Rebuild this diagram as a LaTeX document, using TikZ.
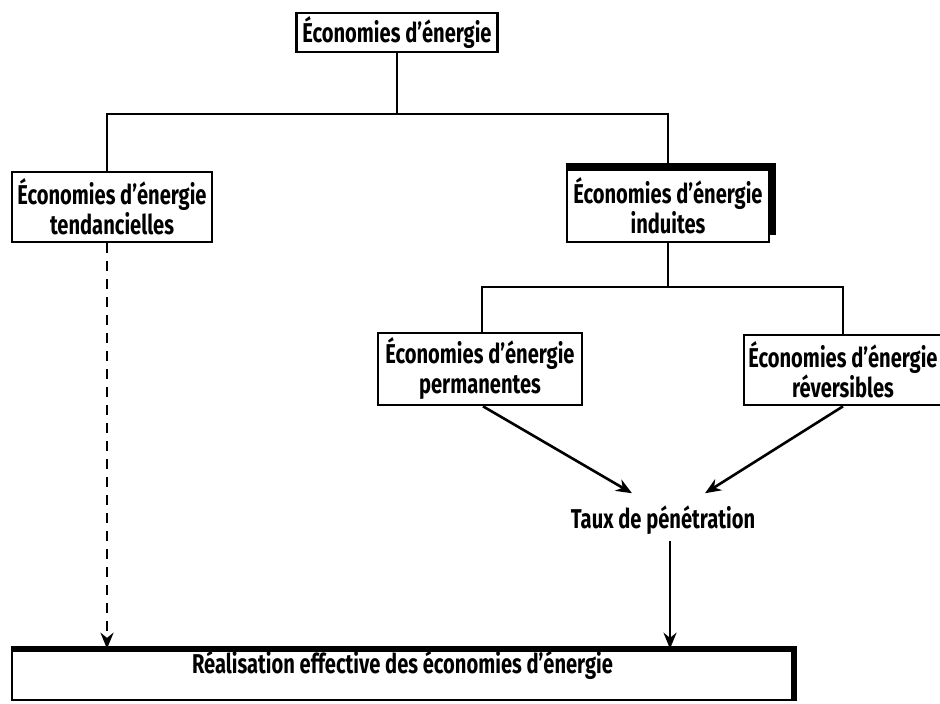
\documentclass[tikz,border=0pt]{standalone}
\usepackage{fontspec}
\setmainfont{Fira Sans}[FakeStretch=0.74]
\usetikzlibrary{arrows.meta}

\begin{document}
\begin{tikzpicture}[x=0.5pt,y=-0.5pt]

\tikzstyle{ecobox} = [rectangle, draw=black, line width=1.3pt, align=center, inner sep=0pt, font=\bfseries\fontsize{13.6}{15}\selectfont]
\tikzstyle{plain} = [inner sep=3pt, font=\bfseries\fontsize{13.6}{15}\selectfont]
\tikzstyle{line} = [line width=1.3pt]
\tikzstyle{shade} = [line width=3pt]
\tikzstyle{arrow} = [line width=1.3pt,-{Stealth[length=8pt,width=6.5pt]}]

\useasboundingbox (0,0) rectangle (940,703);

% Define nodes
\node (eco) [ecobox, minimum width=100.5pt, minimum height=19.5pt] at (397,32.5) {Économies d'énergie};
\node (tend) [ecobox, minimum width=100pt, minimum height=35pt] at (112,207) {Économies d'énergie\\tendancielles};
\node (ind) [ecobox, minimum width=101pt, minimum height=36pt] at (668,206) {Économies d'énergie\\induites};
\node (perm) [ecobox, minimum width=102pt, minimum height=36pt] at (480,369) {Économies d'énergie\\permanentes};
\node (rev) [ecobox, minimum width=99pt, minimum height=35pt] at (843,370) {Économies d'énergie\\réversibles};
\node (taux) [plain] at (663,520) {Taux de pénétration};
\node (real) [ecobox, minimum width=390.5pt, text height=11.5pt, text depth=13.5pt] at (402.5,675) {Réalisation effective des économies d’énergie};

% Shadows
\draw [shade] ([yshift=1.5pt]ind.north west) -- ([xshift=1.5pt,yshift=1.5pt]ind.north east) -- ([xshift=1.5pt,yshift=4pt]ind.south east);
\draw [shade] (real.north west) -- (real.north east) -- (real.south east);

% Draw tree
\coordinate (fork1) at (397,114);
\coordinate (fork2) at (668,287);
\draw [line] (eco.south) -- (fork1);
\draw [line] ([xshift=-2.5pt]tend.north) |- (fork1) -| (ind.north);
\draw [line] (ind.south) -- (fork2);
\draw [line] ([xshift=1pt]perm.north) |- (fork2) -| (rev.north);

% Draw arrows
\draw [arrow] ([xshift=1.5pt]perm.south) -- ([xshift=-15.5pt,yshift=3pt]taux.north);
\draw [arrow] (rev.south) -- ([xshift=21pt,yshift=3pt]taux.north);
\draw [arrow] ([xshift=3.5pt]taux.south) -- ([xshift=3.5pt]taux.south |- real.north);
\draw [arrow, dash pattern=on 5pt off 4pt] ([xshift=-2.5pt]tend.south) -- ([xshift=-2.5pt]tend.south |- real.north);

\end{tikzpicture}
\end{document}
